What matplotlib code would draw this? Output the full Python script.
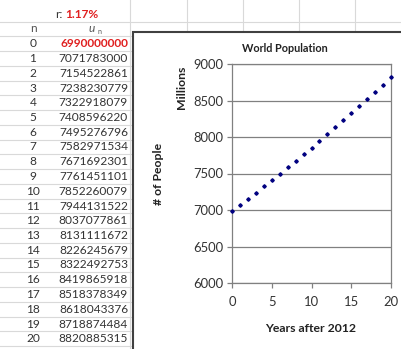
import matplotlib
matplotlib.use("Agg")
import matplotlib.pyplot as plt
from matplotlib.patches import Rectangle

plt.rcParams['font.family'] = ['Lato', 'DejaVu Sans']

# data
n_vals = list(range(21))
u_vals = [6990000000, 7071783000, 7154522861, 7238230779, 7322918079,
          7408596220, 7495276796, 7582971534, 7671692301, 7761451101,
          7852260079, 7944131522, 8037077861, 8131111672, 8226245679,
          8322492753, 8419865918, 8518378349, 8618043376, 8718874484,
          8820885315]
rate_label = "1.17%"
y_ticks = [6000, 6500, 7000, 7500, 8000, 8500, 9000]
x_ticks = [0, 5, 10, 15, 20]

W, H = 401, 349
fig = plt.figure(figsize=(W / 100, H / 100), dpi=100)

# background axes in pixel coords for the spreadsheet part
bg = fig.add_axes([0, 0, 1, 1])
bg.set_xlim(0, W)
bg.set_ylim(H, 0)
bg.axis('off')

grid_c = '#d9d9d9'
row_h = 14.75
for k in range(23):
    y = 21.5 + row_h * k
    bg.plot([0, W], [y, y], color=grid_c, lw=0.8, zorder=1)
for x in [130, 187, 243, 299, 355]:
    bg.plot([x, x], [0, H], color=grid_c, lw=0.8, zorder=1)

txt_c = '#333333'
red = '#e02020'
fs = 8.6
bg.text(63, 14, "r:", ha='right', va='center', fontsize=fs, color=txt_c)
bg.text(65, 14, rate_label, ha='left', va='center', fontsize=fs,
        color=red, fontweight='bold')
bg.text(33, 29, "n", ha='center', va='center', fontsize=fs, color='#555555')
bg.text(95, 29, "u", ha='right', va='center', fontsize=fs, color='#555555',
        style='italic')
bg.text(98, 31, "n", ha='left', va='center', fontsize=5, color='#555555')

for n, u in zip(n_vals, u_vals):
    y = 29 + row_h * (n + 1)
    bg.text(33, y, str(n), ha='center', va='center', fontsize=fs, color=txt_c)
    if n == 0:
        bg.text(128, y, str(u), ha='right', va='center', fontsize=fs,
                color=red, fontweight='bold')
    else:
        bg.text(128, y, str(u), ha='right', va='center', fontsize=fs,
                color=txt_c)

# chart box
bg.add_patch(Rectangle((133, 32), 300, 340, facecolor='white',
                       edgecolor='#404040', lw=1.5, zorder=3))
bg.text(285, 48, "World Population", ha='center', va='center', fontsize=7.8,
        fontweight='bold', color='#222222', zorder=4)
bg.text(182, 87, "Millions", ha='center', va='center', fontsize=8.8,
        fontweight='bold', rotation=90, color='#222222', zorder=4)
bg.text(159, 174, "# of People", ha='center', va='center', fontsize=8.8,
        fontweight='bold', rotation=90, color='#222222', zorder=4)
bg.text(311, 328, "Years after 2012", ha='center', va='center', fontsize=8.8,
        fontweight='bold', color='#222222', zorder=4)

# plot area
left, right, top, bottom = 232, 391, 64, 283
ax = fig.add_axes([left / W, 1 - bottom / H, (right - left) / W, (bottom - top) / H])
ax.set_zorder(5)
millions = [u / 1e6 for u in u_vals]
ax.plot(n_vals, millions, linestyle='none', marker='D', ms=1.8,
        color='#000080', clip_on=False, zorder=3)
ax.set_xlim(0, 20)
ax.set_ylim(6000, 9000)
ax.set_xticks(x_ticks)
ax.set_yticks(y_ticks)
ax.yaxis.grid(True, color='#808080', lw=0.9)
ax.set_axisbelow(True)
for s in ax.spines.values():
    s.set_color('#808080')
    s.set_linewidth(0.9)
ax.tick_params(direction='out', length=3.5, width=0.9, color='#808080',
               labelsize=9.4, labelcolor='#333333', pad=3)
ax.tick_params(axis='x', pad=6)

fig.savefig('out.png', dpi=100)
